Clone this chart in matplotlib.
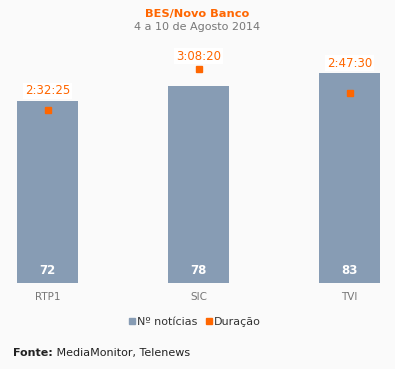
import matplotlib
matplotlib.use("Agg")
import matplotlib.pyplot as plt
from matplotlib.lines import Line2D

categories = ["RTP1", "SIC", "TVI"]
noticias = [72, 78, 83]
duracao_labels = ["2:32:25", "3:08:20", "2:47:30"]

def to_sec(s):
    h, m, x = (int(v) for v in s.split(":"))
    return h * 3600 + m * 60 + x

duracao = [to_sec(s) for s in duracao_labels]

BG = "#fafafa"
BAR = "#879cb4"
ORANGE = "#ff6600"
W, H = 395, 369

fig = plt.figure(figsize=(W / 100, H / 100), dpi=100, facecolor=BG)
plt.rcParams['font.family'] = ['DejaVu Sans']

bottom_px, top_px = 283, 60
ax = fig.add_axes([0, (H - bottom_px) / H, 1, (bottom_px - top_px) / H])
ax.set_facecolor(BG)
x = list(range(len(categories)))
ax.bar(x, noticias, width=61 / 151, color=BAR, zorder=2)
ax.set_xlim(-47.5 / 151, 2 + 45.5 / 151)
ax.set_ylim(0, (bottom_px - top_px) / 2.53)
for s in ax.spines.values():
    s.set_visible(False)
ax.set_yticks([])
ax.set_xticks(x)
ax.set_xticklabels(categories, fontsize=7.5, color="#777777")
ax.tick_params(axis="x", length=0, pad=6.5)
for xi, v in zip(x, noticias):
    ax.text(xi, 4.8, str(v), ha="center", va="center", color="white",
            fontsize=8.5, fontweight="bold", zorder=3)

ax2 = ax.twinx()
ax2.set_ylim(0, (bottom_px - top_px) * 52.85)
ax2.set_yticks([])
for s in ax2.spines.values():
    s.set_visible(False)
ax2.plot(x, duracao, linestyle="none", marker="s", markersize=5,
         color=ORANGE, zorder=4)

# place each duration label just above the taller of its bar / marker
for xi, v, n, lab in zip(x, duracao, noticias, duracao_labels):
    bar_top = ax.transData.transform((xi, n))[1]
    mark = ax2.transData.transform((xi, v))[1]
    if mark > bar_top:
        ypix = mark + 13
    else:
        ypix = bar_top + 10
    yd = ax2.transData.inverted().transform((0, ypix))[1]
    ax2.text(xi, yd, lab, ha="center", va="center", color=ORANGE, fontsize=8.5,
             zorder=5,
             bbox=dict(boxstyle="square,pad=0.15", fc="white", ec="none"))

fig.text(0.5, 1 - 14 / H, "BES/Novo Banco", ha="center", va="center",
         color=ORANGE, fontsize=8.2, fontweight="bold")
fig.text(0.5, 1 - 27 / H, "4 a 10 de Agosto 2014", ha="center", va="center",
         color="#777777", fontsize=8)

handles = [Line2D([], [], linestyle="none", marker="s", markersize=4.5, color=BAR),
           Line2D([], [], linestyle="none", marker="s", markersize=4.5, color=ORANGE)]
fig.legend(handles, ["Nº notícias", "Duração"], loc="center",
           bbox_to_anchor=(194 / W, 1 - 322 / H), ncol=2, frameon=False,
           fontsize=8, handletextpad=0.05, columnspacing=0.6,
           handlelength=0.8, labelcolor="#333333")

t1 = fig.text(13 / W, 1 - 353 / H, "Fonte:", ha="left", va="center",
              color="#222222", fontsize=8, fontweight="bold")
t2 = fig.text(0, 1 - 353 / H, " MediaMonitor, Telenews", ha="left", va="center",
              color="#222222", fontsize=8)
fig.canvas.draw()
bb = t1.get_window_extent()
t2.set_position((bb.x1 / fig.bbox.width, 1 - 353 / H))

fig.savefig("out.png", dpi=100, facecolor=BG)
